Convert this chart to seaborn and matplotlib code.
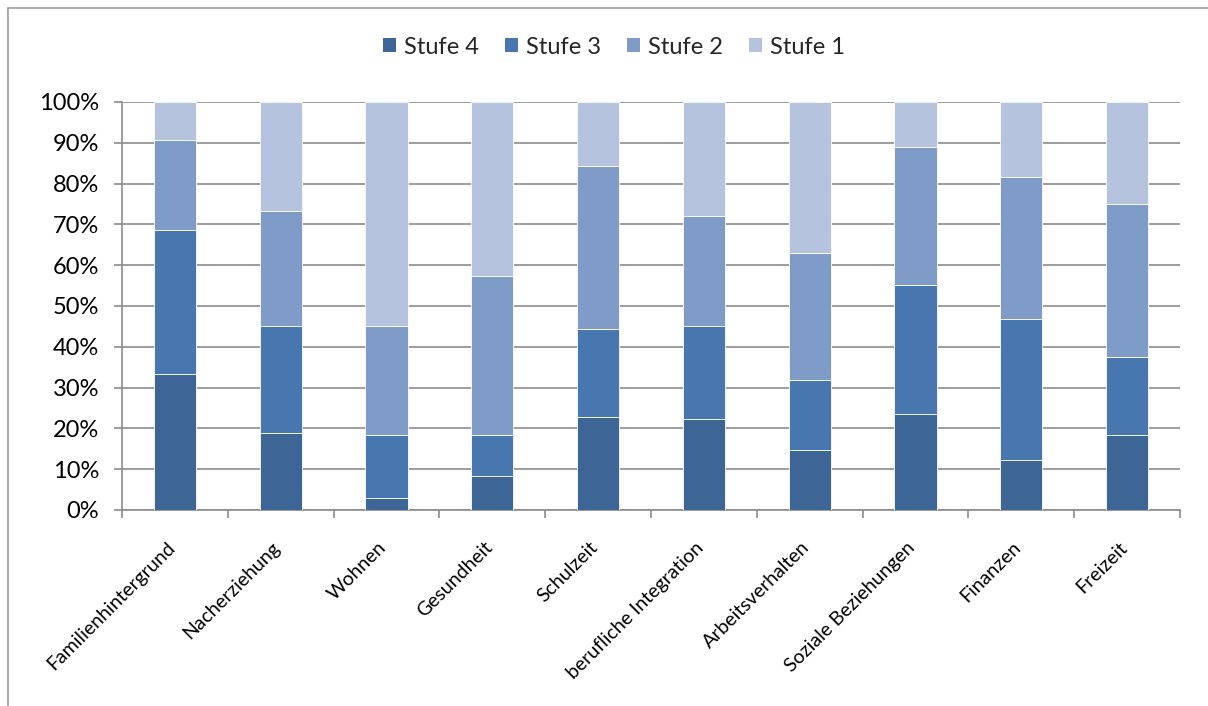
import matplotlib
matplotlib.use("Agg")
import matplotlib.pyplot as plt
import matplotlib.transforms as mtransforms
from matplotlib.lines import Line2D
import seaborn as sns
import pandas as pd
import numpy as np
from matplotlib.patches import Patch

categories = ["Familienhintergrund", "Nacherziehung", "Wohnen", "Gesundheit", "Schulzeit",
              "berufliche Integration", "Arbeitsverhalten", "Soziale Beziehungen", "Finanzen", "Freizeit"]
stufe4 = [33.4, 18.9, 2.9, 8.3, 22.8, 22.4, 14.6, 23.5, 12.3, 18.4]
stufe3 = [35.3, 26.2, 15.4, 10.0, 21.5, 22.7, 17.3, 31.7, 34.6, 19.0]
stufe2 = [22.1, 28.1, 26.8, 39.1, 39.9, 26.9, 31.1, 33.7, 34.6, 37.5]
stufe1 = [9.2, 26.8, 54.9, 42.6, 15.8, 28.0, 37.0, 11.1, 18.5, 25.1]
series_names = ["Stufe 4", "Stufe 3", "Stufe 2", "Stufe 1"]
colors = ["#3D6595", "#4877AF", "#7F9CC8", "#B5C3DE"]
yticks = [0, 10, 20, 30, 40, 50, 60, 70, 80, 90, 100]
ytick_labels = [f"{v}%" for v in yticks]

sns.set_theme(style="white")
plt.rcParams['font.family'] = ['Lato', 'DejaVu Sans']

fig = plt.figure(figsize=(12.08, 7.06), dpi=100)
ax = fig.add_axes([122/1208, 1-510/706, (1180-122)/1208, (510-102)/706])

df = pd.DataFrame({"cat": categories, "Stufe 4": stufe4, "Stufe 3": stufe3,
                   "Stufe 2": stufe2, "Stufe 1": stufe1})
bottom = np.zeros(len(categories))
for name, col in zip(series_names, colors):
    sns.barplot(data=df, x="cat", y=name, order=categories, color=col, width=0.4,
                bottom=bottom, ax=ax, edgecolor="white", linewidth=0.6, saturation=1, zorder=3)
    bottom = bottom + df[name].values

ax.set_ylim(0, 100)
ax.set_xlim(-0.5, len(categories) - 0.5)
ax.set_yticks(yticks)
ax.set_yticklabels(ytick_labels, fontsize=17, color="black")
ax.yaxis.grid(True, color="#8C8C8C", linewidth=1.2, zorder=0)
ax.set_axisbelow(True)
ax.set_xlabel("")
ax.set_ylabel("")
for s in ["top", "right"]:
    ax.spines[s].set_visible(False)
for s in ["left", "bottom"]:
    ax.spines[s].set_color("#8C8C8C")
    ax.spines[s].set_linewidth(1.2)
ax.tick_params(axis="y", which="both", left=True, length=5.5, width=1.2, color="#8C8C8C", pad=11)

# category labels at centers, ticks at boundaries
ax.set_xticks(np.arange(len(categories)))
ax.set_xticklabels(categories, rotation=45, ha="right", va="center", rotation_mode="anchor",
                   fontsize=14, color="black")
ax.tick_params(axis="x", which="major", length=0, pad=25)
shift = mtransforms.ScaledTranslation(-3/100, 0, fig.dpi_scale_trans)
for lbl in ax.get_xticklabels():
    lbl.set_transform(lbl.get_transform() + shift)
ax.set_xticks(np.arange(len(categories) + 1) - 0.5, minor=True)
ax.tick_params(axis="x", which="minor", bottom=True, length=5.5, width=1.2, color="#8C8C8C")

handles = [Patch(facecolor=c, edgecolor="none", label=n) for n, c in zip(series_names, colors)]
fig.legend(handles=handles, loc="center", bbox_to_anchor=(614/1208, 1-47/706), ncol=4, frameon=False,
           fontsize=17, handlelength=0.55, handleheight=0.55, handletextpad=0.35, columnspacing=1.1)

# outer chart border (top and left visible)
fig.add_artist(Line2D([8/1208, 1.0], [1-8/706, 1-8/706], transform=fig.transFigure,
                      color="#A6A6A6", linewidth=1.3))
fig.add_artist(Line2D([8/1208, 8/1208], [0.0, 1-8/706], transform=fig.transFigure,
                      color="#A6A6A6", linewidth=1.3))

fig.savefig("out.png", dpi=100)
